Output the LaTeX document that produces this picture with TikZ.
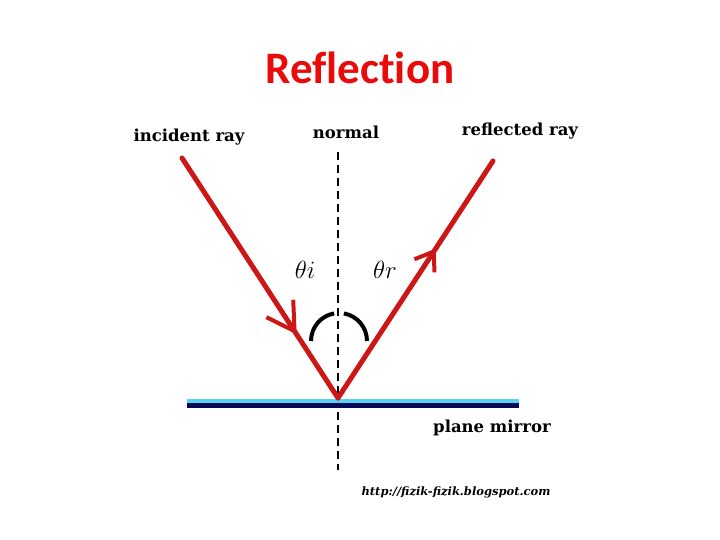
\documentclass[tikz,border=0pt]{standalone}
\usepackage{fontspec}
\setmainfont{DejaVu Serif}
\newfontfamily\titlefont[Ligatures=NoCommon]{Carlito}
\usetikzlibrary{arrows.meta,decorations.markings}
\definecolor{rayred}{RGB}{205,22,22}
\definecolor{titlered}{RGB}{235,10,10}
\definecolor{mirrorcyan}{RGB}{90,210,240}
\definecolor{mirrornavy}{RGB}{5,10,90}
\tikzset{
  ray/.style={draw=rayred, line width=5pt, line cap=round},
  lbl/.style={font=\fontsize{16.5}{18}\selectfont\bfseries, inner sep=0pt},
  angl/.style={font=\fontsize{29}{32}\selectfont\itshape, inner sep=0pt},
  normalline/.style={draw=black, line width=1.8pt, dash pattern=on 8pt off 5pt},
  anglearc/.style={draw=black, line width=4pt},
}
\begin{document}
\begin{tikzpicture}[x=1pt,y=-1pt]
\useasboundingbox (0,0) rectangle (720,540);
% title
\node[font=\titlefont\fontsize{45}{50}\selectfont\bfseries, text=titlered] (title) at (360,68) {Reflection};
% points
\coordinate (inc) at (182,158);
\coordinate (apex) at (338,398);
\coordinate (refl) at (493,161);
\coordinate (ntop) at (338,152);
\coordinate (nbot) at (338,470);
\coordinate (mL) at (187,401);
\coordinate (mR) at (519,401);
\coordinate (mL2) at (187,405);
\coordinate (mR2) at (519,405);
% normal
\draw[normalline] (ntop) -- (nbot);
% mirror
\draw[draw=mirrorcyan, line width=3.5pt] (mL) -- (mR);
\draw[draw=mirrornavy, line width=5pt] (mL2) -- (mR2);
% rays
\draw[ray, postaction={decorate, decoration={markings,
   mark=at position 0.735 with {\arrow[rayred, line width=4pt]{Straight Barb[length=27pt, width=32pt]}}}}]
   (inc) -- (apex);
\draw[ray, postaction={decorate, decoration={markings,
   mark=at position 0.63 with {\arrow[rayred, line width=4pt]{Straight Barb[length=17pt, width=24pt]}}}}]
   (apex) -- (refl);
% angle arcs
\draw[anglearc] (311,341) arc[start angle=180, end angle=260, radius=28];
\draw[anglearc] (367,341) arc[start angle=0, end angle=-80, radius=28];
% labels
\node[angl] (thi) at (305,270) {$\theta i$};
\node[angl] (thr) at (385,270) {$\theta r$};
\node[lbl] (linc) at (189,137) {incident ray};
\node[lbl] (lnorm) at (346,132) {normal};
\node[lbl] (lrefl) at (520,131) {reflected ray};
\node[lbl] (lmir) at (492,428) {plane mirror};
\node[font=\fontsize{11.5}{12}\selectfont\bfseries\itshape, inner sep=0pt] (url) at (456,492) {http://fizik-fizik.blogspot.com};
\end{tikzpicture}
\end{document}
